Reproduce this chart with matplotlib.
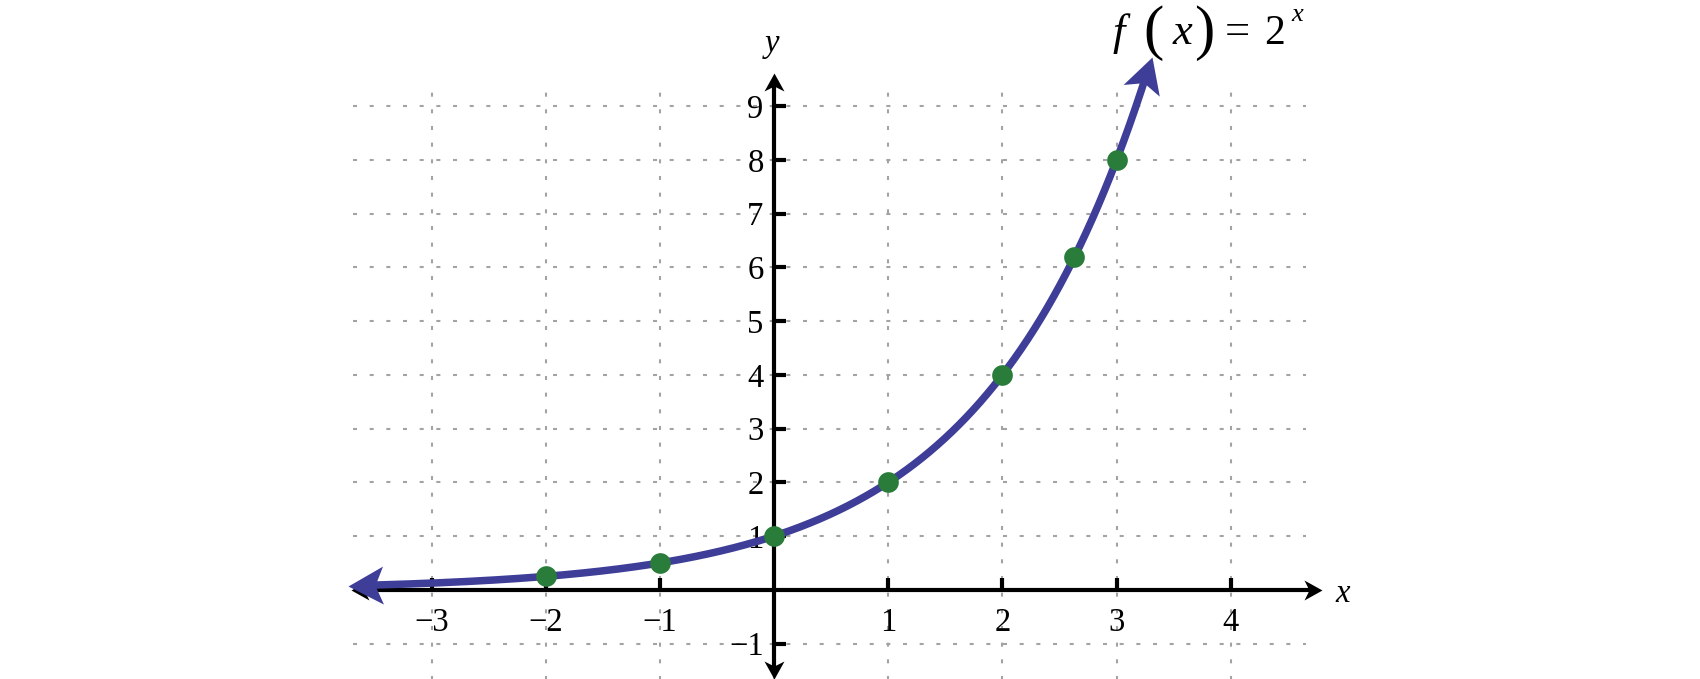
import numpy as np
import matplotlib
matplotlib.use('Agg')
import matplotlib.pyplot as plt
from matplotlib.path import Path
from matplotlib.markers import MarkerStyle
from matplotlib.transforms import Affine2D

plt.rcParams['lines.scale_dashes'] = False
plt.rcParams['font.family'] = ['Liberation Serif', 'DejaVu Serif']

# ---------------- data ----------------
point_x = [-2, -1, 0, 1, 2, 2.63, 3]
point_y = [0.25, 0.5, 1, 2, 4, 6.2, 8]
base = 2
curve_x_start = -3.73
curve_x_end = 3.31
x_ticks = [-3, -2, -1, 1, 2, 3, 4]
x_tick_labels = ['\u22123', '\u22122', '\u22121', '1', '2', '3', '4']
y_ticks = [-1, 1, 2, 3, 4, 5, 6, 7, 8, 9]
y_tick_labels = ['\u22121', '1', '2', '3', '4', '5', '6', '7', '8', '9']
grid_x = [-3, -2, -1, 0, 1, 2, 3, 4]
grid_y = [-1, 0, 1, 2, 3, 4, 5, 6, 7, 8, 9]

CURVE = '#3e3d98'
POINT = '#2a7c3b'
GRID = '#a3a3a3'

fig = plt.figure(figsize=(17, 6.79), dpi=100)
ax = fig.add_axes([0, 0, 1, 1])
ax.set_xlim(-6.782, 8.111)
ax.set_ylim(-1.660, 10.977)

# grid
ax.hlines(grid_y, -3.69, 4.66, colors=GRID, linewidth=1.5,
          linestyles=[(0, (2.9, 9.1))], zorder=1)
ax.vlines(grid_x, -1.70, 9.30, colors=GRID, linewidth=1.5,
          linestyles=[(0, (2.9, 9.1))], zorder=1)


def stealth_path(L, W, d):
    verts = [(0, 0), (-L, W / 2), (-L + d, 0), (-L, -W / 2), (0, 0)]
    codes = [Path.MOVETO, Path.LINETO, Path.LINETO, Path.LINETO, Path.CLOSEPOLY]
    return Path(verts, codes), max(L, W / 2)


def draw_arrow(tip, prev, L, W, d, color, z):
    p1 = ax.transData.transform(tip)
    p0 = ax.transData.transform(prev)
    ang = np.degrees(np.arctan2(p1[1] - p0[1], p1[0] - p0[0]))
    path, m = stealth_path(L, W, d)
    ms = MarkerStyle(path, transform=Affine2D().rotate_deg(ang))
    ax.plot([tip[0]], [tip[1]], linestyle='none', marker=ms,
            markersize=2 * m * 72 / fig.dpi, color=color,
            markeredgewidth=0, zorder=z)


# axes (spines at zero)
for s in ['top', 'right']:
    ax.spines[s].set_visible(False)
ax.spines['left'].set_position(('data', 0))
ax.spines['bottom'].set_position(('data', 0))
ax.spines['left'].set_linewidth(3.0)
ax.spines['bottom'].set_linewidth(3.0)
ax.spines['bottom'].set_bounds(-3.71 + 0.10, 4.80 - 0.10)
ax.spines['left'].set_bounds(-1.66 + 0.2, 9.62 - 0.2)
ax.spines['left'].set_zorder(2.5)
ax.spines['bottom'].set_zorder(2.5)

ax.set_xticks(x_ticks, x_tick_labels)
ax.set_yticks(y_ticks, y_tick_labels)
ax.tick_params(axis='both', direction='in', length=8.6, width=3.0,
               labelsize=23.5, color='black')
ax.tick_params(axis='x', pad=12.5)
ax.tick_params(axis='y', pad=7.5)

# axis arrows
draw_arrow((4.80, 0), (4.0, 0), 18, 20, 5, 'black', 2.6)
draw_arrow((-3.71, 0), (-3.0, 0), 18, 20, 5, 'black', 2.6)
draw_arrow((0, 9.62), (0, 9.0), 18, 20, 5, 'black', 2.6)
draw_arrow((0, -1.66), (0, -1.0), 18, 20, 5, 'black', 2.6)

# curve
xs = np.linspace(curve_x_start, curve_x_end, 3000)
ys = np.power(base, xs)
disp = ax.transData.transform(np.column_stack([xs, ys]))
trim = 26
d0 = np.hypot(*(disp - disp[0]).T)
d1 = np.hypot(*(disp - disp[-1]).T)
keep = (d0 >= trim) & (d1 >= trim)
ax.plot(xs[keep], ys[keep], color=CURVE, linewidth=5.4,
        solid_capstyle='butt', zorder=3)
draw_arrow((xs[0], ys[0]), (xs[60], ys[60]), 35, 38, 8, CURVE, 3.1)
draw_arrow((xs[-1], ys[-1]), (xs[-60], ys[-60]), 35, 38, 8, CURVE, 3.1)

# points
ax.plot(point_x, point_y, linestyle='none', marker='o', markersize=14.9,
        color=POINT, markeredgewidth=0, zorder=4)

# axis labels
ax.text(4.98, -0.229, 'x', fontsize=23.5, style='italic', ha='center',
        va='baseline')
ax.text(-0.02, 10.01, 'y', fontsize=23.5, style='italic', ha='center',
        va='baseline')


# title f(x) = 2^x, composed from pieces (positions in figure pixels)
def px(xp, yp):
    return fig.transFigure.inverted().transform((xp / 1700 * fig.bbox.width,
                                                 (679 - yp) / 679 * fig.bbox.height))


title_pieces = [
    ('f', 1119, 45, 32, 'italic'),
    ('(', 1154, 48, 44, 'normal'),
    ('x', 1182, 44, 32, 'italic'),
    (')', 1204, 48, 44, 'normal'),
    ('=', 1237, 44, 32, 'normal'),
    ('2', 1274, 44, 30, 'normal'),
    ('x', 1297, 21, 19, 'italic'),
]
for txt, xp, yp, fs, st in title_pieces:
    fx, fy = px(xp, yp)
    fig.text(fx, fy, txt, fontsize=fs, style=st, ha='center', va='baseline')

fig.savefig('out.png', dpi=100)
